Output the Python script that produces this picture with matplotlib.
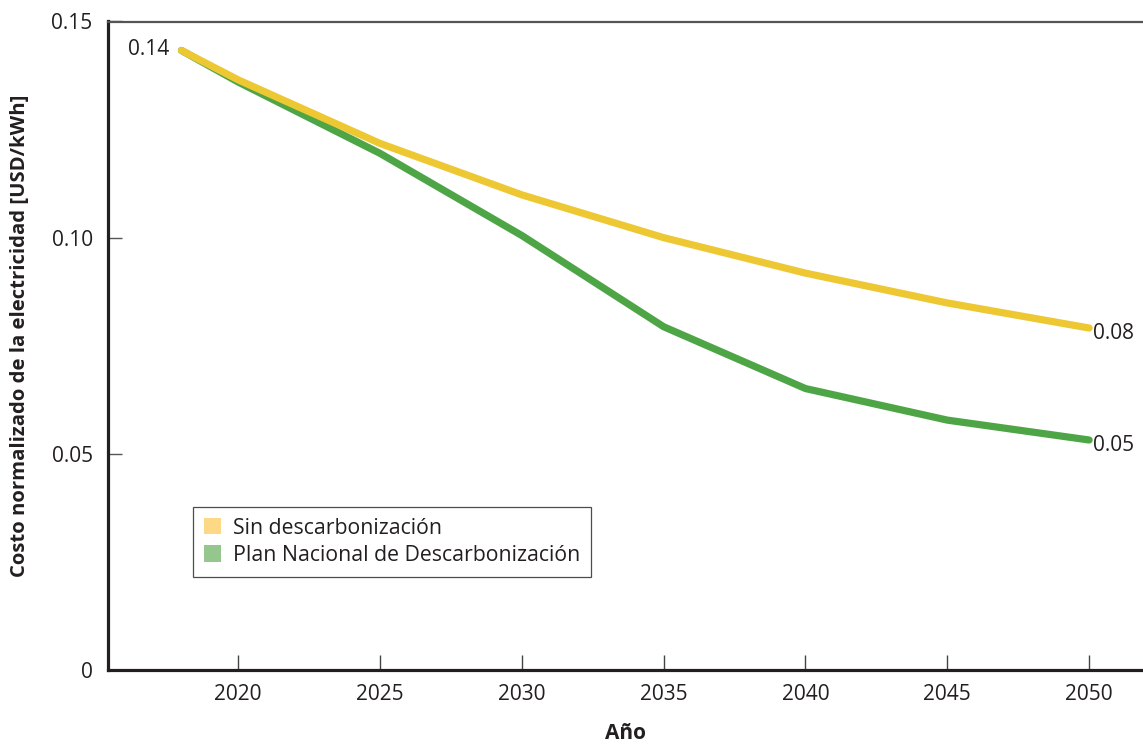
import matplotlib
matplotlib.use("Agg")
import matplotlib.pyplot as plt
from matplotlib.patches import Patch

plt.rcParams['font.family'] = ['Open Sans', 'DejaVu Sans']

years = [2018, 2020, 2025, 2030, 2035, 2040, 2045, 2050]
sin_descarb = [0.1433, 0.1365, 0.1218, 0.1099, 0.1000, 0.0918, 0.0849, 0.0791]
plan_nacional = [0.1433, 0.1360, 0.1195, 0.1005, 0.0794, 0.0651, 0.0578, 0.0532]
series_labels = ["Sin descarbonización", "Plan Nacional de Descarbonización"]
xticks = [2020, 2025, 2030, 2035, 2040, 2045, 2050]
yticks = [0, 0.05, 0.10, 0.15]
ytick_labels = ["0", "0.05", "0.10", "0.15"]

c_yellow = "#EDC833"
c_green = "#4EA546"
c_yellow_l = "#FDD886"
c_green_l = "#94C68D"
dark = "#231F20"
fs = 15

fig = plt.figure(figsize=(11.43, 7.45), dpi=100)
ax = fig.add_axes([108/1143, 1 - 670/745, 1 - 108/1143, (670 - 21.5)/745])

ax.plot(years, sin_descarb, color=c_yellow, lw=5.2, solid_capstyle='round', solid_joinstyle='round', zorder=3)
ax.plot(years, plan_nacional, color=c_green, lw=5.2, solid_capstyle='round', solid_joinstyle='round', zorder=2)

ax.set_xlim(2015.41, 2051.9)
ax.set_ylim(0, 0.15)
ax.set_xticks(xticks)
ax.set_xticklabels([str(x) for x in xticks])
ax.set_yticks(yticks)
ax.set_yticklabels(ytick_labels)

ax.spines['right'].set_visible(False)
ax.spines['top'].set_color("#555555")
ax.spines['top'].set_linewidth(1.6)
for s in ['left', 'bottom']:
    ax.spines[s].set_color(dark)
    ax.spines[s].set_linewidth(2.3)

ax.tick_params(axis='x', direction='in', length=11, width=1.0, color="#444444",
               labelsize=fs, labelcolor=dark, pad=10)
ax.tick_params(axis='y', direction='in', length=10, width=1.0, color="#555555",
               labelsize=fs, labelcolor=dark, pad=11)
ax.get_yticklines()[0].set_visible(False)

ax.set_xlabel("Año", fontsize=fs, fontweight='bold', color=dark, labelpad=13)
ax.set_ylabel("Costo normalizado de la electricidad [USD/kWh]", fontsize=14.6,
              fontweight='bold', color=dark)
ax.yaxis.set_label_coords((20 - 108) / 1035, (670 - 336) / 648.5)
ax.yaxis.label.set_va('center')

ax.annotate("0.14", xy=(years[0], sin_descarb[0]), xytext=(-9, 1), textcoords='offset points',
            ha='right', va='center', fontsize=fs, color=dark)
ax.annotate("0.08", xy=(years[-1], sin_descarb[-1]), xytext=(3, -4), textcoords='offset points',
            ha='left', va='center', fontsize=fs, color=dark)
ax.annotate("0.05", xy=(years[-1], plan_nacional[-1]), xytext=(3, -4), textcoords='offset points',
            ha='left', va='center', fontsize=fs, color=dark)

handles = [Patch(facecolor=c_yellow_l, edgecolor='none'), Patch(facecolor=c_green_l, edgecolor='none')]
leg = ax.legend(handles, series_labels, loc='upper left', bbox_to_anchor=((193-108)/1035, 1 - (507-21.5)/648.5),
                prop={'size': 15.3}, frameon=True, fancybox=False, borderpad=0.5, labelspacing=0.3,
                handlelength=0.8, handleheight=0.8, handletextpad=0.6, borderaxespad=0)
leg.get_frame().set_edgecolor(dark)
leg.get_frame().set_linewidth(0.9)
for t in leg.get_texts():
    t.set_color(dark)

fig.savefig("out.png", dpi=100)
